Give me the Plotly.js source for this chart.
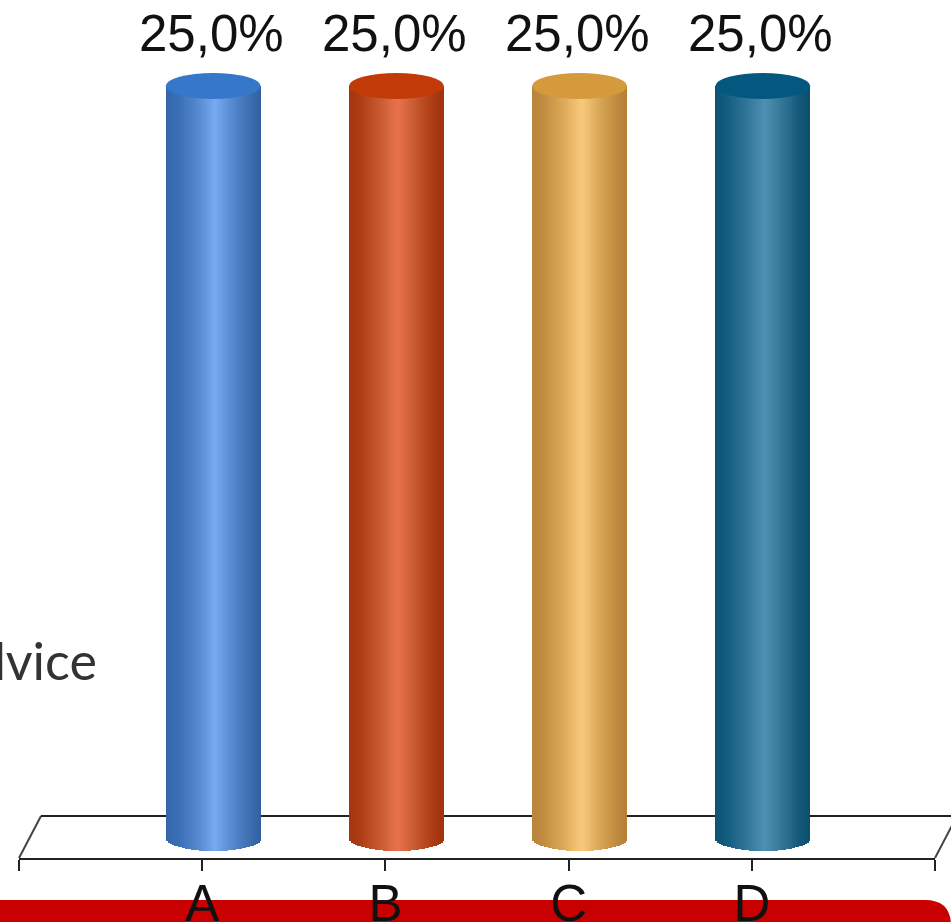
<!DOCTYPE html>
<html>
<head>
<meta charset="utf-8">
<script src="https://cdn.plot.ly/plotly-3.0.1.min.js"></script>
<style>
html,body{margin:0;padding:0;background:#fff;overflow:hidden}
#chart{width:951px;height:922px}
.barlayer,.layer-above .shapelayer{filter:blur(0.6px)}
</style>
</head>
<body>
<div id="chart"></div>
<script>
var categories = ["A", "B", "C", "D"];
var shares = [25.0, 25.0, 25.0, 25.0];
var shareLabels = ["25,0%", "25,0%", "25,0%", "25,0%"];
var axisTickValues = [-1, 0, 1, 2, 3, 4];
var axisTickLabels = ["", "A", "B", "C", "D", ""];
var capColors = ["#3677c9", "#c23a08", "#d49a3c", "#04587f"];
var bodyStops = [
  [[0,"#3465a8"],[0.12,"#3a6eb4"],[0.32,"#5085cc"],[0.52,"#76abf2"],[0.74,"#4f82c6"],[0.9,"#3a6cae"],[1,"#3060a0"]],
  [[0,"#a5350f"],[0.12,"#ae3d16"],[0.32,"#c85a30"],[0.52,"#e8734e"],[0.74,"#c05228"],[0.9,"#aa3a12"],[1,"#a0320c"]],
  [[0,"#b8843a"],[0.12,"#c08c40"],[0.32,"#dca858"],[0.52,"#f9c97b"],[0.74,"#d5a253"],[0.9,"#bf8a3e"],[1,"#b58036"]],
  [[0,"#0c5274"],[0.12,"#135c80"],[0.32,"#2f7497"],[0.52,"#4f90b1"],[0.74,"#2d6f90"],[0.9,"#115776"],[1,"#0c4e6e"]]
];

var W = 951, H = 922;
var plotLeft = 19, plotRight = 935, axisY = 858;
var pxPerUnitX = (plotRight - plotLeft) / 5;
var baseY = 838, topY = 86;
var pxPerUnitY = (baseY - topY) / shares[0];
var yMin = -(axisY - baseY) / pxPerUnitY, yMax = baseY / pxPerUnitY;
var barPx = 95, capRy = 13, depthPx = 11, strips = 48;

function lerpColor(stops, t) {
  for (var i = 1; i < stops.length; i++) {
    if (t <= stops[i][0]) {
      var a = stops[i-1], b = stops[i], f = (t - a[0]) / (b[0] - a[0]), o = [];
      for (var k = 0; k < 3; k++) {
        var ca = parseInt(a[1].substr(1 + 2*k, 2), 16), cb = parseInt(b[1].substr(1 + 2*k, 2), 16);
        o.push(Math.round(ca + (cb - ca) * f));
      }
      return "rgb(" + o.join(",") + ")";
    }
  }
  return stops[stops.length-1][1];
}

var traces = [];
var xs = categories.map(function (c, i) { return i + depthPx / pxPerUnitX; });
var barW = barPx / pxPerUnitX, ryY = capRy / pxPerUnitY;
var stripW = barW / strips, overlap = 1 / pxPerUnitX;
for (var s = 0; s < strips; s++) {
  var tm = (s + 0.5) / strips;
  var drop = ryY * Math.sqrt(Math.max(0, 1 - Math.pow(2 * tm - 1, 2)));
  var w = stripW + (s < strips - 1 ? overlap : 0);
  traces.push({
    type: "bar",
    x: xs.map(function (x) { return x - barW / 2 + (tm - 0.5 / strips) * barW + w / 2; }),
    y: shares.map(function (v) { return v + drop; }),
    base: shares.map(function () { return -drop; }),
    width: w,
    marker: { color: bodyStops.map(function (st) { return lerpColor(st, tm); }), line: { width: 0 } },
    hoverinfo: "skip", showlegend: false
  });
}

function px(x) { return (x - plotLeft) / (plotRight - plotLeft); }
function py(y) { return (axisY - y) / axisY; }
var shapes = [];
var r = 26, bandTop = 900;
shapes.push({ type: "path", layer: "below", xref: "paper", yref: "paper", fillcolor: "#c80000", line: { width: 0 },
  path: "M " + px(0) + " " + py(bandTop) + " L " + px(W - r) + " " + py(bandTop) +
        " Q " + px(W) + " " + py(bandTop) + " " + px(W) + " " + py(bandTop + r) +
        " L " + px(W) + " " + py(H) + " L " + px(0) + " " + py(H) + " Z" });
shapes.push({ type: "line", layer: "below", xref: "paper", yref: "paper", x0: px(19), y0: py(858), x1: px(41), y1: py(816), line: { color: "#444", width: 2 } });
shapes.push({ type: "line", layer: "below", xref: "paper", yref: "paper", x0: px(41), y0: py(816), x1: px(951), y1: py(816), line: { color: "#222", width: 2 } });
shapes.push({ type: "line", layer: "below", xref: "paper", yref: "paper", x0: px(935), y0: py(858), x1: px(957), y1: py(816), line: { color: "#444", width: 2 } });
categories.forEach(function (c, i) {
  shapes.push({ type: "circle", xref: "x", yref: "y", layer: "above", fillcolor: capColors[i], line: { width: 0 },
    x0: xs[i] - barW / 2, x1: xs[i] + barW / 2, y0: shares[i] - ryY, y1: shares[i] + ryY });
});

var annotations = categories.map(function (c, i) {
  return { x: i, y: shares[i], xref: "x", yref: "y", text: shareLabels[i], showarrow: false,
    xanchor: "center", yanchor: "bottom", xshift: 9, yshift: 22,
    font: { family: "Liberation Sans, Arial, sans-serif", size: 51, color: "#111" } };
});
annotations.push({ xref: "paper", yref: "paper", x: px(99), y: py(693), xanchor: "right", yanchor: "bottom",
  text: "Advice", showarrow: false, font: { family: "Lato, sans-serif", size: 52, color: "#333" } });

var layout = {
  width: W, height: H, paper_bgcolor: "#fff", plot_bgcolor: "rgba(0,0,0,0)",
  margin: { l: plotLeft, r: W - plotRight, t: 0, b: H - axisY, pad: 0 },
  showlegend: false, barmode: "overlay", bargap: 0,
  xaxis: { range: [-1, 4], tickmode: "array", tickvals: axisTickValues, ticktext: axisTickLabels,
    ticks: "outside", ticklen: 11, tickwidth: 2, tickcolor: "#222", showline: true, linecolor: "#222", linewidth: 2,
    showgrid: false, zeroline: false, automargin: false, tickangle: 0, ticklabelstandoff: -11,
    tickfont: { family: "Liberation Sans, Arial, sans-serif", size: 51, color: "#111" } },
  yaxis: { range: [yMin, yMax], visible: false, showgrid: false, zeroline: false, fixedrange: true },
  shapes: shapes, annotations: annotations
};
Plotly.newPlot("chart", traces, layout, { displayModeBar: false, staticPlot: true });
</script>
</body>
</html>
